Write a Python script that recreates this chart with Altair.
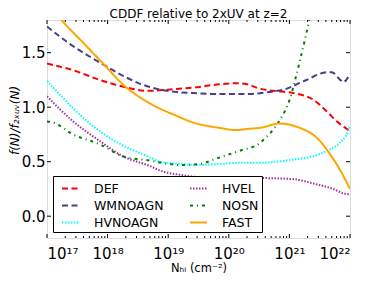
import altair as alt
import pandas as pd
import numpy as np

# ---- data (x = log10 N_HI, y = f(N)/f_2xUV(N)) ----
def_x = [17.0, 17.43, 17.87, 18.32, 18.65, 18.98, 19.41, 19.85, 20.13, 20.30, 20.51, 20.74, 21.06, 21.39, 21.62, 21.78, 21.95, 22.0]
def_y = [1.40, 1.34, 1.25, 1.18, 1.15, 1.16, 1.18, 1.21, 1.22, 1.21, 1.17, 1.15, 1.13, 1.07, 0.96, 0.87, 0.80, 0.78]

wm_x = [17.0, 17.43, 17.87, 18.32, 18.56, 18.98, 19.41, 19.85, 20.30, 20.68, 20.90, 21.28, 21.62, 21.70, 21.84, 21.89, 22.0]
wm_y = [1.74, 1.56, 1.41, 1.27, 1.21, 1.15, 1.13, 1.12, 1.12, 1.14, 1.16, 1.25, 1.32, 1.32, 1.25, 1.23, 1.31]

hvn_x = [17.0, 17.22, 17.43, 17.87, 18.25, 18.70, 18.86, 19.19, 19.52, 19.85, 20.18, 20.51, 20.79, 21.06, 21.39, 21.62, 21.84, 21.97, 22.0]
hvn_y = [1.24, 1.11, 0.99, 0.78, 0.65, 0.54, 0.50, 0.48, 0.47, 0.48, 0.49, 0.49, 0.50, 0.52, 0.55, 0.60, 0.68, 0.78, 0.83]

hvel_x = [17.0, 17.43, 17.87, 18.25, 18.70, 18.86, 19.19, 19.52, 19.85, 20.18, 20.51, 21.06, 21.39, 21.72, 21.89, 22.0]
hvel_y = [1.10, 0.87, 0.69, 0.55, 0.46, 0.42, 0.38, 0.36, 0.36, 0.35, 0.35, 0.34, 0.30, 0.25, 0.21, 0.20]

nosn_x = [17.0, 17.10, 17.43, 17.87, 18.25, 18.70, 19.00, 19.19, 19.52, 19.85, 20.18, 20.51, 20.57, 20.74, 20.84, 21.01, 21.09, 21.17, 21.26, 21.32, 21.40]
nosn_y = [0.87, 0.86, 0.75, 0.66, 0.55, 0.51, 0.48, 0.47, 0.48, 0.54, 0.60, 0.67, 0.70, 0.80, 0.88, 1.08, 1.24, 1.42, 1.63, 1.78, 1.98]

fast_x = [17.0, 17.24, 17.60, 17.96, 18.25, 18.65, 19.14, 19.41, 19.85, 20.13, 20.30, 20.51, 20.84, 21.17, 21.45, 21.67, 21.84, 22.0]
fast_y = [1.97, 1.80, 1.59, 1.38, 1.21, 1.05, 0.92, 0.86, 0.81, 0.79, 0.80, 0.81, 0.85, 0.81, 0.72, 0.57, 0.42, 0.25]

series = ["DEF", "WMNOAGN", "HVNOAGN", "HVEL", "NOSN", "FAST"]
xs = [def_x, wm_x, hvn_x, hvel_x, nosn_x, fast_x]
ys = [def_y, wm_y, hvn_y, hvel_y, nosn_y, fast_y]
colors = ["#ff0000", "#483d8b", "#00ffff", "#a030a0", "#008000", "#ffa500"]
dashes = [[6, 3.5], [6, 3.5], [1.5, 1.5], [1.5, 1.5], [3, 4, 1, 4], [1, 0]]

title_text = "CDDF relative to 2xUV at z=2"
x_title = "Nₕᵢ (cm⁻²)"
y_title = "f(N)/f₂ₓᵤᵥ(N)"
x_ticks = [17, 18, 19, 20, 21, 22]
x_tick_labels = ["10¹⁷", "10¹⁸", "10¹⁹", "10²⁰", "10²¹", "10²²"]
y_ticks = [0.0, 0.5, 1.0, 1.5]

rows = []
for s, xx, yy in zip(series, xs, ys):
    for a, b in zip(xx, yy):
        rows.append({"series": s, "logN": a, "ratio": b})
df = pd.DataFrame(rows)

minor = [np.log10(k) + n for n in range(17, 22) for k in range(2, 10)]
major_df = pd.DataFrame({"x": x_ticks})
minor_df = pd.DataFrame({"x": minor})
ytick_df = pd.DataFrame({"y": y_ticks})

W, H = 303, 218
FONT = "DejaVu Sans"

xscale = alt.Scale(domain=[17, 22], nice=False, zero=False)
yscale = alt.Scale(domain=[-0.2, 1.8], nice=False, zero=False)

label_expr = "[" + ",".join("'" + t + "'" for t in x_tick_labels) + "][round(datum.value) - 17]"

lines = alt.Chart(df).mark_line(strokeWidth=2, clip=True, interpolate="monotone").encode(
    x=alt.X("logN:Q", scale=xscale,
            axis=alt.Axis(values=x_ticks, labelExpr=label_expr, ticks=False, domain=False, grid=False,
                          labelFontSize=15, labelFont=FONT, labelColor="black", labelPadding=8,
                          title=x_title, titleFont=FONT, titleFontSize=11.5,
                          titleFontWeight="normal", titleColor="black",
                          titleY=30, titleBaseline="middle")),
    y=alt.Y("ratio:Q", scale=yscale,
            axis=alt.Axis(values=y_ticks, format=".1f", ticks=False, domain=False, grid=False,
                          labelFontSize=15, labelFont=FONT, labelColor="black", labelPadding=2,
                          title=y_title, titleFont=FONT, titleFontSize=12,
                          titleFontStyle="italic", titleFontWeight="normal", titleColor="black",
                          titleX=-33, titleY=100, titleBaseline="middle", titleAlign="center")),
    color=alt.Color("series:N",
                    scale=alt.Scale(domain=series, range=colors),
                    legend=alt.Legend(title=None, orient="bottom-left", offset=6, columns=2,
                                      symbolType="stroke", symbolSize=289, symbolStrokeWidth=2,
                                      symbolOffset=5,
                                      labelFontSize=12.5, labelFont=FONT, labelColor="black",
                                      fillColor="white", strokeColor="black", padding=3,
                                      rowPadding=1, columnPadding=20, labelOffset=14)),
    strokeDash=alt.StrokeDash("series:N",
                              scale=alt.Scale(domain=series, range=dashes),
                              legend=alt.Legend(title=None)),
    detail="series:N",
)

def xrule(data, y0, y1):
    return alt.Chart(data).mark_rule(color="black", strokeWidth=1).encode(
        x=alt.X("x:Q", scale=xscale), y=alt.value(y0), y2=alt.value(y1))

def yrule(x0, x1):
    return alt.Chart(ytick_df).mark_rule(color="black", strokeWidth=1).encode(
        y=alt.Y("y:Q", scale=yscale), x=alt.value(x0), x2=alt.value(x1))

ticks = [
    xrule(major_df, H, H - 4), xrule(minor_df, H, H - 2),
    xrule(major_df, 0, 4), xrule(minor_df, 0, 2),
    yrule(0, 4), yrule(W, W - 4),
]

title = alt.Chart(pd.DataFrame({"t": [title_text]})).mark_text(
    font=FONT, fontSize=12, color="black", baseline="alphabetic", align="center"
).encode(x=alt.value(W / 2), y=alt.value(-2), text="t:N")

chart = alt.layer(lines, *ticks, title).properties(
    width=W, height=H,
    autosize=alt.AutoSizeParams(type="none"),
    padding={"left": 39, "top": 12, "right": 16, "bottom": 35},
).configure_view(stroke="black", strokeWidth=1).configure(background="white")

chart.save("out.html", embed_options={"renderer": "svg", "actions": False})
